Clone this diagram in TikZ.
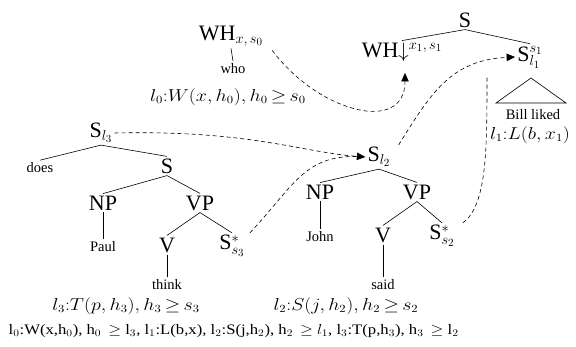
\documentclass[tikz,border=0pt]{standalone}
\usepackage[no-math]{fontspec}
\setmainfont{Liberation Serif}
\usepackage{graphicx}
\usetikzlibrary{arrows.meta}
\newcommand\widetext[1]{\scalebox{1.15}[1]{#1}}
\tikzset{
  big/.style={font=\fontsize{22}{24}\selectfont, inner sep=2pt},
  word/.style={font=\fontsize{14.5}{16}\selectfont, inner sep=2.5pt},
  form/.style={font=\fontsize{16}{18}\selectfont, inner sep=1pt},
  branch/.style={line width=0.6pt},
  link/.style={line width=0.6pt, dash pattern=on 4pt off 3pt},
  tip/.style={-{Triangle[length=8.5pt,width=7.5pt]}}
}
\begin{document}
\begin{tikzpicture}[x=1pt,y=-1pt]
\useasboundingbox (0,0) rectangle (576,347);
% top left WH
\node[big] (wh0) at (231,36) {WH$_{x,\,s_0}$};
\node[word] (who) at (233,69) {who};
\node[form] (l0f) at (228,97) {\widetext{$l_0{:}W(x,h_0),h_0\,{\geq}\,s_0$}};
\draw[branch] (wh0.south) -- (who.north);
% top right tree
\node[big] (stop) at (465,20) {S};
\node[big] (whd) at (402,52) {WH$\downarrow^{x_1,\,s_1}$};
\node[big] (sl1) at (530,57) {S$^{s_1}_{l_1}$};
\draw[branch] (whd.north) -- (stop.south) -- (sl1.north);
\coordinate (tri) at (531,78);
\draw[branch] (tri) -- ++(-35,25) -- ++(70,0) -- cycle;
\node[word] (bill) at (533,115) {Bill liked};
\node[form] (l1f) at (530,135) {\widetext{$l_1{:}L(b,x_1)$}};
% left tree
\node[big] (sl3) at (101,133) {S$_{l_3}$};
\node[word] (does) at (40,168) {does};
\node[big] (s1) at (167,166) {S};
\node[big] (np1) at (103,203) {NP};
\node[big] (vp1) at (200,203) {VP};
\node[word] (paul) at (103,247) {Paul};
\node[big] (v1) at (167,245) {V};
\node[big] (sf3) at (232,246) {S$^*_{s_3}$};
\node[word] (think) at (167,285) {think};
\node[form] (l3f) at (126,306) {\widetext{$l_3{:}T(p,h_3),h_3\,{\geq}\,s_3$}};
\draw[branch] (does.north) -- (sl3.south) -- (s1.north);
\draw[branch] (np1.north) -- (s1.south) -- (vp1.north);
\draw[branch] (np1.south) -- (paul.north);
\draw[branch] (v1.north) -- (vp1.south) -- (sf3.north);
\draw[branch] (v1.south) -- (think.north);
% middle tree
\node[big] (sl2) at (379,157) {S$_{l_2}$};
\node[big] (np2) at (320,192) {NP};
\node[big] (vp2) at (417,192) {VP};
\node[word] (john) at (320,237) {John};
\node[big] (v2) at (383,235) {V};
\node[big] (sf2) at (442,236) {S$^*_{s_2}$};
\node[word] (said) at (383,285) {said};
\node[form] (l2f) at (346,306) {\widetext{$l_2{:}S(j,h_2),h_2\,{\geq}\,s_2$}};
\draw[branch] (np2.north) -- (sl2.south) -- (vp2.north);
\draw[branch] (np2.south) -- (john.north);
\draw[branch] (v2.north) -- (vp2.south) -- (sf2.north);
\draw[branch] (v2.south) -- (said.north);
% bottom line
\node[word, anchor=west] (bottom) at (6,331) {\widetext{l$_0$:W(x,h$_0$), h$_0$ \,$\geq$ l$_3$, l$_1$:L(b,x), l$_2$:S(j,h$_2$), h$_2$ \,$\geq$ $l_1$, l$_3$:T(p,h$_3$), h$_3$ \,$\geq$ l$_2$}};
% dashed links
\coordinate (whtip) at (405,73);
\coordinate (l1join) at (487,76);
\draw[link, tip] ([xshift=7pt,yshift=-2pt]wh0.south east) .. controls (318,112) and (405,135) .. (whtip);
\draw[link, tip] (sl3.east) .. controls (250,130) and (300,152) .. (sl2.west);
\draw[link] ([xshift=3pt]sf3.north east) .. controls (295,185) and (305,152) .. (sl2.west);
\draw[link, tip] ([xshift=6pt]sl2.north east) .. controls (430,95) and (450,60) .. (sl1.west);
\draw[link] ([xshift=6pt]sf2.north east) .. controls (487,205) and (487,150) .. (l1join);
\end{tikzpicture}
\end{document}
